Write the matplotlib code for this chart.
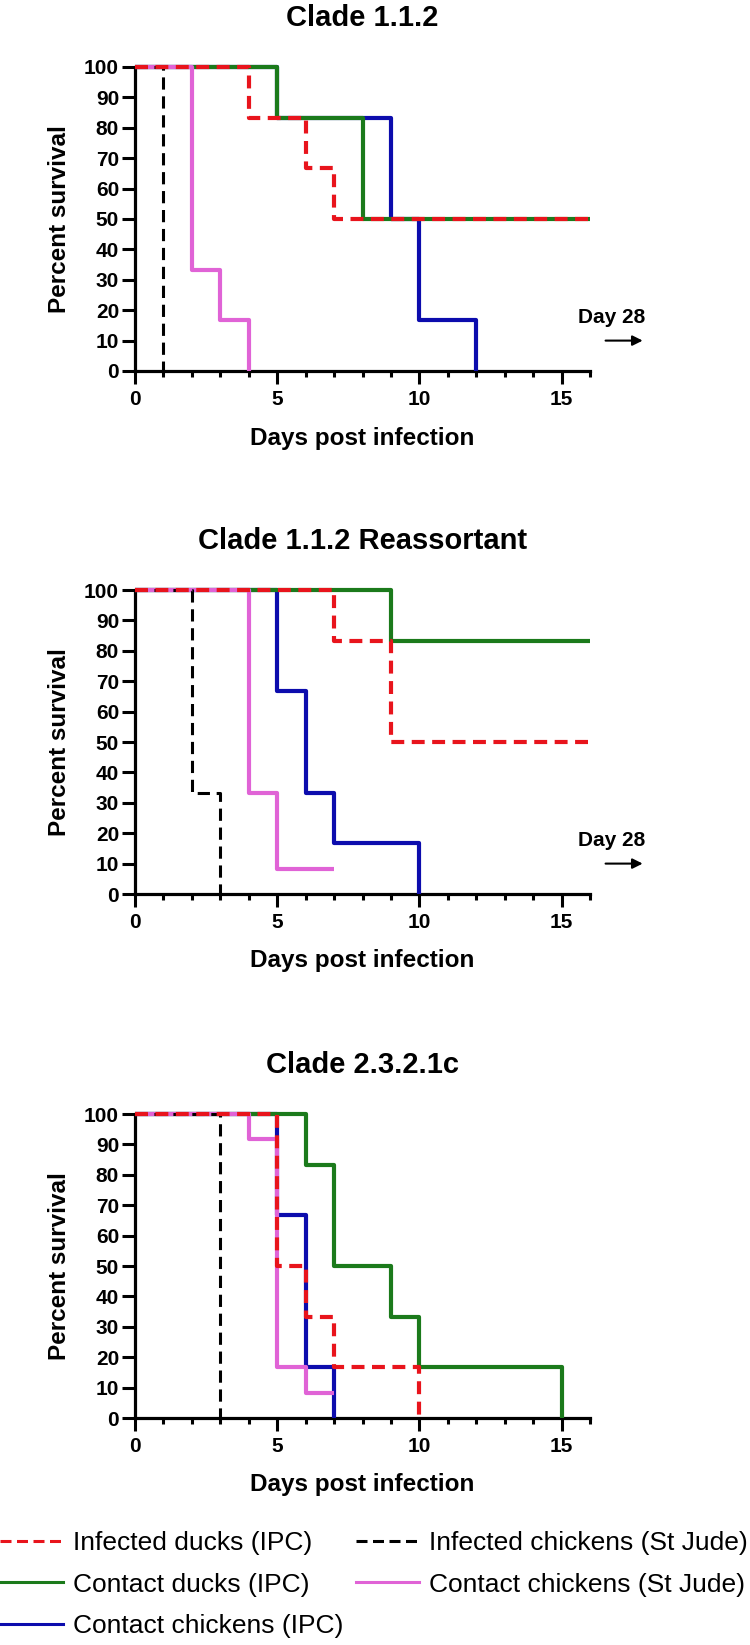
import matplotlib
matplotlib.use("Agg")
import matplotlib.pyplot as plt
from matplotlib.lines import Line2D
from matplotlib.ticker import MultipleLocator

plt.rcParams['font.family'] = ['Liberation Sans', 'DejaVu Sans']

# survival curves (day, percent survival), drawn as post-steps
titles = ['Clade 1.1.2', 'Clade 1.1.2 Reassortant', 'Clade 2.3.2.1c']
labels = ['Infected ducks (IPC)', 'Contact ducks (IPC)', 'Contact chickens (IPC)',
          'Infected chickens (St Jude)', 'Contact chickens (St Jude)']

# Clade 1.1.2
a_inf_ducks_t = [0, 4, 6, 7, 16]
a_inf_ducks_s = [100, 83.3, 66.7, 50, 50]
a_con_ducks_t = [0, 5, 8, 16]
a_con_ducks_s = [100, 83.3, 50, 50]
a_con_chick_t = [0, 5, 9, 10, 12]
a_con_chick_s = [100, 83.3, 50, 16.7, 0]
a_inf_stj_t = [0, 1]
a_inf_stj_s = [100, 0]
a_con_stj_t = [0, 2, 3, 4]
a_con_stj_s = [100, 33.3, 16.7, 0]

# Clade 1.1.2 Reassortant
b_inf_ducks_t = [0, 7, 9, 16]
b_inf_ducks_s = [100, 83.3, 50, 50]
b_con_ducks_t = [0, 9, 16]
b_con_ducks_s = [100, 83.3, 83.3]
b_con_chick_t = [0, 5, 6, 7, 10]
b_con_chick_s = [100, 66.7, 33.3, 16.7, 0]
b_inf_stj_t = [0, 2, 3]
b_inf_stj_s = [100, 33.3, 0]
b_con_stj_t = [0, 4, 5, 7]
b_con_stj_s = [100, 33.3, 8.3, 8.3]

# Clade 2.3.2.1c
c_inf_ducks_t = [0, 5, 6, 7, 10]
c_inf_ducks_s = [100, 50, 33.3, 16.7, 0]
c_con_ducks_t = [0, 6, 7, 9, 10, 15]
c_con_ducks_s = [100, 83.3, 50, 33.3, 16.7, 0]
c_con_chick_t = [0, 5, 6, 7]
c_con_chick_s = [100, 66.7, 16.7, 0]
c_inf_stj_t = [0, 3]
c_inf_stj_s = [100, 0]
c_con_stj_t = [0, 4, 5, 6, 7]
c_con_stj_s = [100, 91.7, 16.7, 8.3, 8.3]

panels = [
    [(a_inf_ducks_t, a_inf_ducks_s), (a_con_ducks_t, a_con_ducks_s), (a_con_chick_t, a_con_chick_s),
     (a_inf_stj_t, a_inf_stj_s), (a_con_stj_t, a_con_stj_s)],
    [(b_inf_ducks_t, b_inf_ducks_s), (b_con_ducks_t, b_con_ducks_s), (b_con_chick_t, b_con_chick_s),
     (b_inf_stj_t, b_inf_stj_s), (b_con_stj_t, b_con_stj_s)],
    [(c_inf_ducks_t, c_inf_ducks_s), (c_con_ducks_t, c_con_ducks_s), (c_con_chick_t, c_con_chick_s),
     (c_inf_stj_t, c_inf_stj_s), (c_con_stj_t, c_con_stj_s)],
]
show_day28 = [True, True, False]

colors = ['#e8141c', '#1b7a1b', '#0c0cad', '#000000', '#e063d6']
styles = [(0, (3.1, 1.8)), '-', '-', (0, (4.0, 2.2)), '-']
widths = [3.0, 3.0, 3.0, 2.2, 3.0]
zorders = [6, 4, 3, 5, 4.5]

fig = plt.figure(figsize=(7.5, 16.45), dpi=100)
W, H = 750, 1645
ax_left, ax_right = 135, 590
ax_tops = [67, 590, 1114]
ax_h = 304

for p, (series, title) in enumerate(zip(panels, titles)):
    top = ax_tops[p]
    ax = fig.add_axes([ax_left / W, 1 - (top + ax_h) / H, (ax_right - ax_left) / W, ax_h / H])
    for i, (t, s) in enumerate(series):
        ax.step(t, s, where='post', color=colors[i], linestyle=styles[i], lw=widths[i],
                zorder=zorders[i], clip_on=False, solid_capstyle='butt', dash_capstyle='butt')
    ax.set_xlim(0, 16)
    ax.set_ylim(0, 100)
    ax.spines['top'].set_visible(False)
    ax.spines['right'].set_visible(False)
    for sp in ['left', 'bottom']:
        ax.spines[sp].set_linewidth(2.3)
    ax.xaxis.set_major_locator(MultipleLocator(5))
    ax.xaxis.set_minor_locator(MultipleLocator(1))
    ax.yaxis.set_major_locator(MultipleLocator(10))
    ax.tick_params(which='major', length=9.5, width=2.2, labelsize=15, pad=4)
    ax.tick_params(which='minor', length=4.3, width=2.2)
    ax.tick_params(axis='y', pad=2)
    for lab in ax.get_xticklabels() + ax.get_yticklabels():
        lab.set_fontweight('bold')
    ax.set_xlabel('Days post infection', fontsize=17.5, fontweight='bold', va='center')
    ax.xaxis.set_label_coords(0.5, -67 / ax_h)
    ax.set_ylabel('Percent survival', fontsize=17.5, fontweight='bold', va='center', ha='center')
    ax.yaxis.set_label_coords((60 - ax_left) / (ax_right - ax_left), 0.5)
    ax.text(0.5, 1 + 49 / ax_h, title, transform=ax.transAxes, ha='center', va='center',
            fontsize=21, fontweight='bold')
    if show_day28[p]:
        ax.text(16.75, 17.5, 'Day 28', ha='center', va='center', fontsize=15,
                fontweight='bold', clip_on=False)
        ax.annotate('', xy=(17.95, 10), xytext=(16.45, 10),
                    arrowprops=dict(arrowstyle='-|>', lw=1.5, color='black', mutation_scale=15),
                    annotation_clip=False)

handles = [
    Line2D([], [], color=colors[0], lw=2.2, linestyle=(0, (3.6, 1.8))),
    Line2D([], [], color=colors[1], lw=2.2),
    Line2D([], [], color=colors[2], lw=2.2),
    Line2D([], [], color=colors[3], lw=2.2, linestyle=(0, (3.6, 1.8))),
    Line2D([], [], color=colors[4], lw=2.2),
]
fig.legend(handles, labels, loc='upper left', bbox_to_anchor=(0.0, 1 - 1531 / H), ncol=2,
           frameon=False, fontsize=19, handlelength=2.4, handletextpad=0.35,
           columnspacing=0.5, labelspacing=0.67, borderaxespad=0, borderpad=0)

fig.savefig('out.png', dpi=100)
